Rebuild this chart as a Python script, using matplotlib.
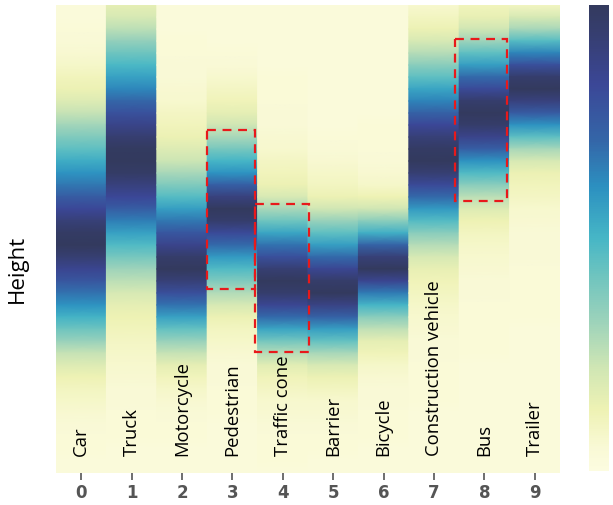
import matplotlib
matplotlib.use("Agg")
import matplotlib.pyplot as plt
import numpy as np
from matplotlib.colors import LinearSegmentedColormap, Normalize
from matplotlib.patches import Rectangle
from matplotlib.cm import ScalarMappable

categories = ["Car", "Truck", "Motorcycle", "Pedestrian", "Traffic cone",
              "Barrier", "Bicycle", "Construction vehicle", "Bus", "Trailer"]
tick_labels = [str(i) for i in range(10)]

# density per height bin, top (tall) to bottom (short), 40 bins
car = [0.03, 0.03, 0.04, 0.05, 0.06, 0.08, 0.11, 0.14, 0.18, 0.24,
       0.31, 0.38, 0.45, 0.53, 0.60, 0.67, 0.75, 0.83, 0.92, 0.98,
       1.00, 0.93, 0.85, 0.77, 0.68, 0.60, 0.51, 0.42, 0.33, 0.24,
       0.18, 0.13, 0.10, 0.08, 0.06, 0.05, 0.04, 0.04, 0.03, 0.03]
truck = [0.16, 0.20, 0.26, 0.34, 0.42, 0.49, 0.56, 0.63, 0.71, 0.79,
         0.87, 0.94, 0.99, 1.00, 0.97, 0.90, 0.83, 0.74, 0.65, 0.56,
         0.48, 0.40, 0.32, 0.26, 0.20, 0.16, 0.13, 0.11, 0.09, 0.08,
         0.07, 0.06, 0.05, 0.05, 0.04, 0.04, 0.04, 0.03, 0.03, 0.03]
motorcycle = [0.03, 0.03, 0.03, 0.04, 0.04, 0.05, 0.05, 0.06, 0.07, 0.09,
              0.11, 0.14, 0.18, 0.23, 0.30, 0.38, 0.47, 0.57, 0.67, 0.77,
              0.86, 0.96, 1.00, 0.92, 0.80, 0.68, 0.56, 0.44, 0.33, 0.24,
              0.16, 0.11, 0.08, 0.06, 0.05, 0.04, 0.04, 0.03, 0.03, 0.03]
pedestrian = [0.03, 0.03, 0.03, 0.03, 0.04, 0.05, 0.07, 0.09, 0.12, 0.16,
              0.22, 0.30, 0.40, 0.50, 0.60, 0.74, 0.90, 1.00, 0.95, 0.82,
              0.70, 0.58, 0.48, 0.38, 0.28, 0.20, 0.14, 0.10, 0.08, 0.06,
              0.05, 0.05, 0.04, 0.04, 0.04, 0.03, 0.03, 0.03, 0.03, 0.03]
traffic_cone = [0.03, 0.03, 0.03, 0.03, 0.03, 0.03, 0.04, 0.04, 0.04, 0.05,
                0.05, 0.06, 0.07, 0.09, 0.11, 0.14, 0.20, 0.30, 0.42, 0.55,
                0.68, 0.80, 0.93, 1.00, 0.95, 0.84, 0.70, 0.55, 0.41, 0.27,
                0.17, 0.12, 0.09, 0.07, 0.06, 0.05, 0.04, 0.04, 0.04, 0.03]
barrier = [0.03, 0.03, 0.03, 0.03, 0.03, 0.03, 0.03, 0.03, 0.03, 0.03,
           0.03, 0.04, 0.05, 0.06, 0.08, 0.10, 0.14, 0.22, 0.33, 0.45,
           0.57, 0.70, 0.84, 0.96, 1.00, 0.88, 0.73, 0.57, 0.44, 0.30,
           0.20, 0.14, 0.10, 0.07, 0.06, 0.05, 0.04, 0.04, 0.03, 0.03]
bicycle = [0.03, 0.03, 0.03, 0.03, 0.03, 0.03, 0.03, 0.03, 0.03, 0.03,
           0.04, 0.04, 0.04, 0.05, 0.06, 0.08, 0.13, 0.22, 0.36, 0.52,
           0.72, 0.92, 1.00, 0.85, 0.66, 0.50, 0.36, 0.25, 0.16, 0.12,
           0.08, 0.06, 0.05, 0.05, 0.04, 0.04, 0.04, 0.03, 0.03, 0.03]
construction_vehicle = [0.07, 0.10, 0.14, 0.20, 0.27, 0.36, 0.45, 0.55, 0.64, 0.73,
                        0.83, 0.92, 0.98, 1.00, 0.93, 0.82, 0.70, 0.58, 0.47, 0.36,
                        0.27, 0.20, 0.15, 0.12, 0.10, 0.08, 0.07, 0.06, 0.05, 0.05,
                        0.04, 0.04, 0.04, 0.04, 0.03, 0.03, 0.03, 0.03, 0.03, 0.03]
bus = [0.11, 0.15, 0.22, 0.32, 0.45, 0.57, 0.70, 0.82, 0.95, 1.00,
       0.96, 0.86, 0.74, 0.60, 0.48, 0.36, 0.26, 0.18, 0.13, 0.10,
       0.08, 0.07, 0.06, 0.05, 0.05, 0.04, 0.04, 0.04, 0.04, 0.04,
       0.03, 0.03, 0.03, 0.03, 0.03, 0.03, 0.03, 0.03, 0.03, 0.03]
trailer = [0.10, 0.20, 0.30, 0.47, 0.64, 0.80, 0.95, 1.00, 0.90, 0.75,
           0.60, 0.45, 0.30, 0.20, 0.14, 0.11, 0.09, 0.07, 0.06, 0.05,
           0.05, 0.05, 0.04, 0.04, 0.04, 0.04, 0.04, 0.03, 0.03, 0.03,
           0.03, 0.03, 0.03, 0.03, 0.03, 0.03, 0.03, 0.03, 0.03, 0.03]

columns = [car, truck, motorcycle, pedestrian, traffic_cone,
           barrier, bicycle, construction_vehicle, bus, trailer]

# highlighted boxes: (x0, x1, y0_top, y1_bottom) in column / bin units
boxes = [(2.49, 3.45, 10.4, 23.7),
         (3.44, 4.51, 16.6, 28.9),
         (7.41, 8.45, 2.85, 16.3)]

cmap = LinearSegmentedColormap.from_list("ylgnbu_img", [
    (0.00, "#fcfce0"), (0.05, "#f9f9d5"), (0.13, "#eef2b4"), (0.22, "#d0e6b4"),
    (0.33, "#98d1bb"), (0.42, "#6ec4bf"), (0.50, "#46b6c6"), (0.61, "#2c90c0"),
    (0.71, "#3466a8"), (0.83, "#3b4797"), (0.94, "#363e70"), (1.00, "#333a5e")])
norm = Normalize(0, 1)

fig = plt.figure(figsize=(6.13, 5.05), dpi=100)
ax = fig.add_axes([56/613, 1-473/505, (560-56)/613, (473-5)/505])
nbins = len(car)
yv = np.arange(nbins)
for c, vals in enumerate(columns):
    v = np.array(vals)
    X = np.array([[c - 0.5, c + 0.5]] * nbins)
    Y = np.column_stack([yv, yv])
    C = np.column_stack([v, v])
    ax.pcolormesh(X, Y, C, shading="gouraud", cmap=cmap, norm=norm)
    ax.text(c, 37.6, categories[c], rotation=90, ha="center", va="bottom",
            fontsize=13.3, family="Open Sans", color="black")

for (x0, x1, y0, y1) in boxes:
    ax.add_patch(Rectangle((x0, y0), x1 - x0, y1 - y0, fill=False, edgecolor="#e8191b",
                           linestyle=(0, (4, 3)), linewidth=1.6, zorder=5))

ax.set_xlim(-0.5, 9.5)
ax.set_ylim(nbins - 1, 0)
ax.set_xticks(range(10))
ax.set_xticklabels(tick_labels, fontsize=12, color="#555555", fontweight="bold")
ax.tick_params(axis="x", length=5, width=1.2, color="#555555", pad=3)
ax.set_yticks([])
for s in ax.spines.values():
    s.set_visible(False)

fig.text(0.028, 1 - 269/505, "Height", rotation=90, ha="center", va="center",
         fontsize=16, family="Open Sans")

cax = fig.add_axes([588.5/613, 1-471/505, 20.5/613, (471-5)/505])
cb = fig.colorbar(ScalarMappable(norm=norm, cmap=cmap), cax=cax)
cb.outline.set_visible(False)
cb.set_ticks([])

fig.savefig("out.png", dpi=100)
